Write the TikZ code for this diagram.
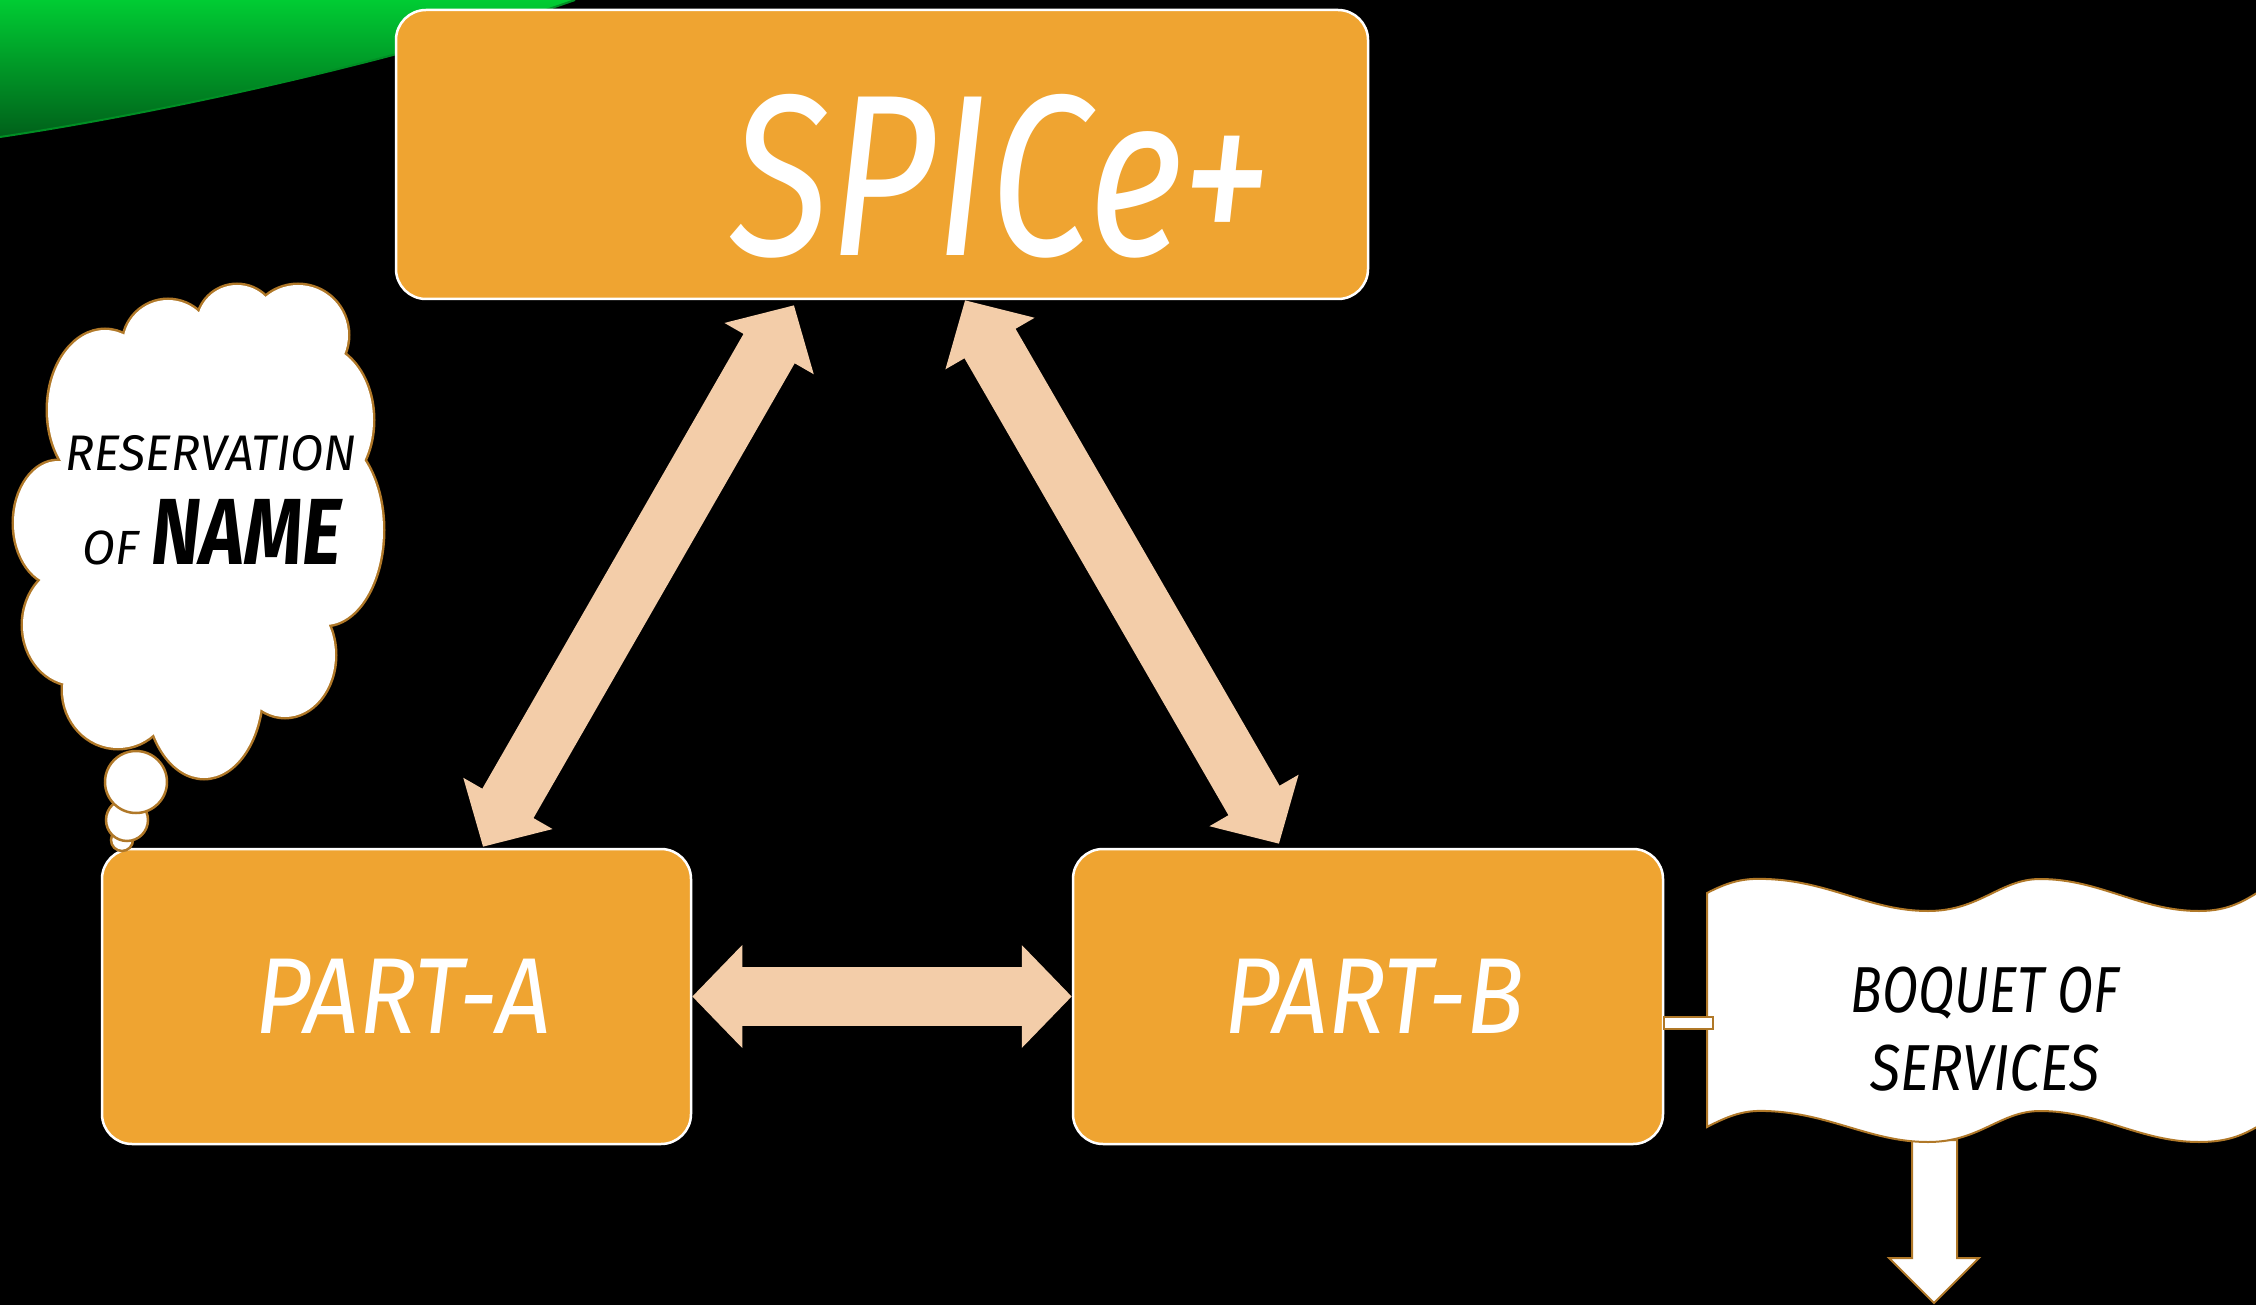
\documentclass[tikz,border=0pt]{standalone}
\usepackage{fontspec}
\usepackage{graphicx}
\usetikzlibrary{arrows.meta,calc}
\newfontfamily\handfont{Fira Sans}
\definecolor{boxorange}{HTML}{EFA431}
\definecolor{peach}{HTML}{F3CDA9}
\definecolor{edgebrown}{HTML}{B07828}
\definecolor{swooshlight}{HTML}{00CC33}
\definecolor{swooshdark}{HTML}{00601A}
\newcommand{\cloudpuffs}[1]{%
  \path[#1] (237,325) circle[radius=40];
  \path[#1] (298,335) circle[radius=50];
  \path[#1] (168,345) circle[radius=45];
  \path[#1] (105,410) ellipse[x radius=57, y radius=80];
  \path[#1] (58,523) ellipse[x radius=44, y radius=62];
  \path[#1] (75,625) ellipse[x radius=52, y radius=60];
  \path[#1] (118,690) ellipse[x radius=55, y radius=58];
  \path[#1] (204,690) ellipse[x radius=58, y radius=88];
  \path[#1] (285,655) ellipse[x radius=50, y radius=62];
  \path[#1] (325,530) ellipse[x radius=58, y radius=95];
  \path[#1] (318,420) ellipse[x radius=55, y radius=75];
  \path[#1] (200,520) ellipse[x radius=130, y radius=180];
}
\begin{document}
\begin{tikzpicture}[x=1pt,y=-1pt,
  obox/.style={draw=white, line width=2.5pt, fill=boxorange, rounded corners=30pt, inner sep=0pt},
  pk/.style={draw=peach, line width=59pt, {Triangle[length=50pt,width=100pt]}-{Triangle[length=50pt,width=100pt]}},
  outl/.style={fill=white, draw=edgebrown, line width=2.5pt},
  bubble/.style={circle, outl, inner sep=0pt},
  hand/.style={font=\handfont\itshape, inner sep=0pt},
  wlabel/.style={hand, text=white},
  blabel/.style={hand, text=black}]
% background
\path[use as bounding box, fill=black] (0,0) rectangle (2256,1305);
% green swoosh
\fill[top color=swooshlight, bottom color=swooshdark] (0,0) -- (575,0) .. controls (420,55) and (180,110) .. (0,137) -- cycle;
\draw[swooshlight!70!black, line width=2pt] (575,0) .. controls (420,55) and (180,110) .. (0,137);
% boxes
\node[obox, minimum width=972pt, minimum height=289pt] (spice) at (882,154.5) {};
\node[obox, minimum width=589pt, minimum height=295pt] (partA) at (396.5,996.5) {};
\node[obox, minimum width=590pt, minimum height=295pt] (partB) at (1368,996.5) {};
\node[wlabel, font=\handfont\itshape\fontsize{230}{230}\selectfont] (spicet) at (1001,176) {\scalebox{0.8}[1]{SPICe+}};
\node[wlabel, font=\handfont\itshape\fontsize{108}{108}\selectfont] (partAt) at (403,996) {\scalebox{0.89}[1]{PART-A}};
\node[wlabel, font=\handfont\itshape\fontsize{108}{108}\selectfont] (partBt) at (1374,996) {\scalebox{0.89}[1]{PART-B}};
% arrows
\draw[pk] ($(partA.north)+(86.5,-1)$) -- ($(spice.south)+(-88,5)$);
\draw[pk] ($(spice.south)+(83,0)$) -- ($(partB.north)+(-89,-4)$);
\draw[pk] (partA.east) -- (partB.west);
% thought cloud (union of puffs: thick brown pass, then white pass)
\cloudpuffs{draw=edgebrown, line width=5pt, fill=white}
\cloudpuffs{fill=white}
\coordinate (cloud) at (200,520);
\node[bubble, minimum size=22pt] (b3) at (122,840) {};
\node[bubble, minimum size=42pt] (b2) at (127,820) {};
\node[bubble, minimum size=62pt] (b1) at (136,782) {};
\node[blabel, font=\handfont\itshape\fontsize{50}{50}\selectfont] (res) at (211,453) {\scalebox{0.97}[1]{RESERVATION}};
\node[blabel, font=\handfont\itshape\fontsize{48}{48}\selectfont] (ofname) at (212,532) {OF {\bfseries\fontsize{94}{94}\selectfont\scalebox{0.8}[1]{NAME}}};
% down arrow
\draw[outl, line width=2pt] (1912,1140) -- (1957,1140) -- (1957,1258) -- (1979,1258) -- (1934,1303) -- (1889,1258) -- (1912,1258) -- cycle;
% flag
\draw[outl, line width=2pt] (1707,893) .. controls (1730,881) and (1745,878) .. (1766,879) .. controls (1830,881) and (1870,911) .. (1928,911) .. controls (1980,911) and (2000,879) .. (2040,879) .. controls (2100,879) and (2140,911) .. (2199,911) .. controls (2230,911) and (2245,900) .. (2262,890) -- (2262,1124) .. controls (2245,1134) and (2230,1142) .. (2199,1142) .. controls (2140,1142) and (2100,1111) .. (2040,1111) .. controls (2000,1111) and (1980,1142) .. (1928,1142) .. controls (1870,1142) and (1830,1113) .. (1766,1111) .. controls (1745,1110) and (1730,1115) .. (1707,1127) -- cycle;
\node[outl, line width=2pt, minimum width=49pt, minimum height=12pt, inner sep=0pt] (bar) at (1688,1023) {};
\node[blabel, font=\handfont\itshape\fontsize{65}{65}\selectfont] (boq) at (1985,993) {\scalebox{0.81}[1]{BOQUET OF}};
\node[blabel, font=\handfont\itshape\fontsize{65}{65}\selectfont] (serv) at (1985,1068) {\scalebox{0.86}[1]{SERVICES}};
\end{tikzpicture}
\end{document}
